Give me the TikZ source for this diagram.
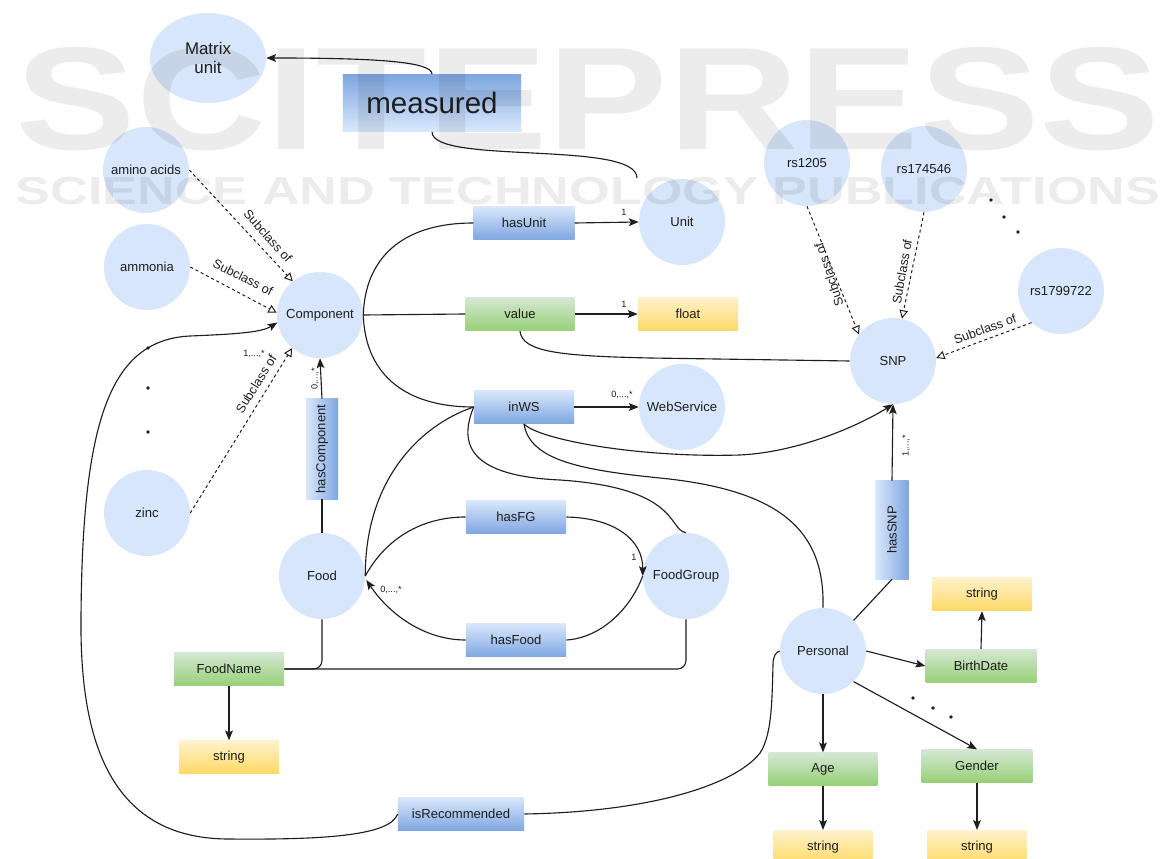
\documentclass[tikz,border=0pt]{standalone}
\usepackage{fontspec}
\usepackage{graphicx}
\setmainfont{Liberation Sans}
\usetikzlibrary{arrows.meta,shapes.geometric,calc}
\definecolor{clsfill}{HTML}{D8E6FB}
\definecolor{bl}{HTML}{DAE8FC}
\definecolor{bd}{HTML}{7EA6E0}
\definecolor{gl}{HTML}{D5E8D4}
\definecolor{gd}{HTML}{97D077}
\definecolor{yl}{HTML}{FFF2CC}
\definecolor{yd}{HTML}{FFD966}
\definecolor{ink}{HTML}{1E1E1E}
\begin{document}
\begin{tikzpicture}[x=0.025cm,y=-0.025cm,
  every node/.style={text=ink},
  cls/.style={circle, fill=clsfill, minimum size=2.15cm, inner sep=0pt, font=\fontsize{9.3}{11}\selectfont},
  pbox/.style={rectangle, minimum width=2.5cm, minimum height=0.84cm, inner sep=0pt, top color=bl, bottom color=bd, font=\fontsize{9.3}{11}\selectfont},
  vbox/.style={pbox, left color=bl, right color=bd},
  dbox/.style={pbox, top color=gl, bottom color=gd},
  tbox/.style={pbox, top color=yl, bottom color=yd},
  ln/.style={draw=ink, line width=0.8pt},
  arr/.style={-{Stealth[length=7pt,width=5.5pt,inset=1.5pt]}},
  sub/.style={draw=ink, line width=0.7pt, dash pattern=on 2.2pt off 2pt, -{Triangle[open,length=6pt,width=6pt]}},
  lbl/.style={inner sep=0pt, font=\fontsize{9}{10}\selectfont},
  card/.style={inner sep=0pt, font=\fontsize{6.5}{7}\selectfont},
  wm/.style={text=black, text opacity=0.075, inner sep=0pt}
]
\useasboundingbox (0,0) rectangle (1167,859);
\fill[white] (0,0) rectangle (1167,859);

% class nodes
\node[cls, ellipse, minimum width=2.9cm, minimum height=2.25cm, font=\fontsize{12}{14}\selectfont, align=center] (mx) at (208,58) {Matrix\\unit};
\node[cls] (amino) at (146,170) {amino acids};
\node[cls] (ammonia) at (147,267) {ammonia};
\node[cls] (comp) at (320,315) {Component};
\node[cls] (zinc) at (147,513) {zinc};
\node[cls] (food) at (322,576) {Food};
\node[cls] (fg) at (686,576) {FoodGroup};
\node[cls] (unit) at (682,222) {Unit};
\node[cls] (ws) at (682,407) {WebService};
\node[cls] (rsA) at (807,163) {rs1205};
\node[cls] (rsB) at (924,169) {rs174546};
\node[cls] (rsC) at (1061,291) {rs1799722};
\node[cls] (snp) at (893,361) {SNP};
\node[cls] (pers) at (823,651) {Personal};

% property boxes
\node[pbox, top color=bd, bottom color=bl, minimum width=4.45cm, minimum height=1.43cm, font=\fontsize{21}{24}\selectfont] (meas) at (432,103) {measured};
\node[pbox, minimum width=2.52cm] (hasUnit) at (524,223) {hasUnit};
\node[dbox, minimum width=2.72cm] (value) at (520,314) {value};
\node[tbox] (float) at (688,314) {float};
\node[pbox] (inWS) at (524,407) {inWS};
\node[vbox, minimum width=0.8cm, minimum height=2.5cm] (hasComp) at (322,449) {\rotatebox{90}{hasComponent}};
\node[pbox] (hasFG) at (516,517) {hasFG};
\node[pbox] (hasFood) at (516,640) {hasFood};
\node[dbox, minimum width=2.75cm] (foodName) at (229,669) {FoodName};
\node[tbox, minimum height=0.82cm] (strFN) at (229,757) {string};
\node[pbox, minimum width=3.15cm] (isRec) at (461,814) {isRecommended};
\node[vbox, minimum width=0.83cm, minimum height=2.45cm] (hasSNP) at (892,530) {\rotatebox{90}{hasSNP}};
\node[tbox] (strBD) at (982,594) {string};
\node[dbox, minimum width=2.77cm] (bdate) at (981,666) {BirthDate};
\node[dbox, minimum width=2.72cm, minimum height=0.82cm] (age) at (823,769) {Age};
\node[dbox, minimum width=2.77cm, minimum height=0.82cm] (gender) at (977,766) {Gender};
\node[tbox, minimum width=2.48cm] (strAge) at (823,847) {string};
\node[tbox, minimum width=2.48cm] (strG) at (977,847) {string};

% connectors
\draw[ln,arr] (meas.north) .. controls (432,62) and (380,58) .. (mx.east);
\draw[ln] (meas.south) .. controls (432,165) and (637,140) .. ([shift={(-45,-44)}]unit.center);
\draw[ln] (comp.east) .. controls (365,260) and (400,223) .. (hasUnit.west);
\draw[ln] (comp.east) -- (value.west);
\draw[ln] (comp.east) .. controls (365,370) and (400,407) .. (inWS.west);
\draw[ln,arr] (hasUnit.east) -- (unit.west);
\draw[ln,arr] (value.east) -- (float.west);
\draw[ln,arr] (inWS.east) -- (ws.west);
\draw[ln] (value.south) .. controls (522,352) and (560,356) .. (650,358) -- (snp.west);
\draw[ln] (inWS.west) .. controls (420,425) and (365,480) .. (food.east);
\draw[ln] (inWS.west) .. controls (458,445) and (470,476) .. (560,480) .. controls (680,488) and (668,530) .. (fg.north);
\draw[ln,arr] (inWS.south) .. controls (540,440) and (640,458) .. (740,455) .. controls (800,452) and (860,425) .. (snp.south);
\draw[ln] (inWS.south) .. controls (530,460) and (580,470) .. (660,478) .. controls (780,490) and (825,530) .. (pers.north);
\draw[ln,arr] (hasComp.north) -- (comp.south);
\draw[ln] (food.north) -- (hasComp.south);
\draw[ln] (food.east) .. controls (385,540) and (420,517) .. (hasFG.west);
\draw[ln,arr] (hasFG.east) .. controls (615,518) and (643,540) .. (fg.west);
\draw[ln] (fg.west) .. controls (630,610) and (600,638) .. (hasFood.east);
\draw[ln,arr] (hasFood.west) .. controls (425,640) and (390,615) .. ([shift={(1,4)}]food.east);
\draw[ln,rounded corners=6pt] (foodName.east) -| (food.south);
\draw[ln,rounded corners=6pt] (foodName.east) -| (fg.south);
\draw[ln,arr] (foodName.south) -- (strFN.north);
\draw[ln,arr] (isRec.west) .. controls (390,835) and (330,840) .. (227,839) .. controls (110,838) and (80,740) .. (81,620) .. controls (82,420) and (110,340) .. (190,336) .. controls (240,334) and (262,332) .. (comp.190);
\draw[ln] (isRec.east) .. controls (650,812) and (735,785) .. (760,753) .. controls (772,735) and (772,700) .. (773,665) .. controls (773,656) and (776,652) .. (pers.west);
\draw[ln,arr] (hasSNP.north) -- (snp.south);
\draw[ln] (pers.north east) -- (hasSNP.south);
\draw[ln,arr] (pers.east) -- (bdate.west);
\draw[ln,arr] (bdate.north) -- (strBD.south);
\draw[ln,arr] (pers.south east) -- (gender.north);
\draw[ln,arr] (pers.south) -- (age.north);
\draw[ln,arr] (age.south) -- (strAge.north);
\draw[ln,arr] (gender.south) -- (strG.north);

% subclass arrows
\draw[sub] (amino.east) -- (comp.129);
\draw[sub] (ammonia.east) -- (comp.177);
\draw[sub] (zinc.east) -- (comp.230);
\draw[sub] (rsA.south) -- (snp.142);
\draw[sub] (rsB.south) -- (snp.78);
\draw[sub] (rsC.227) -- (snp.4);

% labels
\node[lbl, rotate=-48] (l1) at (268,236) {Subclass of};
\node[lbl, rotate=-27] (l2) at (243,277) {Subclass of};
\node[lbl, rotate=58] (l3) at (256,384) {Subclass of};
\node[lbl, rotate=109] (l4) at (829,275) {Subclass of};
\node[lbl, rotate=80] (l5) at (902,272) {Subclass of};
\node[lbl, rotate=20] (l6) at (985,329) {Subclass of};

\node[card] (k1) at (624,212) {1};
\node[card] (k2) at (624,304) {1};
\node[card] (k3) at (622,395) {0,...,*};
\node[card, rotate=90] (k4) at (315,379) {0,...,*};
\node[card] (k5) at (634,557) {1};
\node[card] (k6) at (391,590) {0,...,*};
\node[card, rotate=90] (k7) at (906,446) {1,...,*};
\node[card] (k8) at (254,354) {1,...,*};

% ellipsis dots
\foreach \p in {(148,348),(148,388),(148,432),(991,200),(1004,217),(1018,232),(913,698),(933,708),(951,717)}
  \fill[ink] \p circle (1.3pt);

% watermark
\node[wm] (wm1) at (588,99) {\resizebox{28.6cm}{2.55cm}{\bfseries SCITEPRESS}};
\node[wm] (wm2) at (588,191) {\resizebox{28.6cm}{0.68cm}{\bfseries SCIENCE AND TECHNOLOGY PUBLICATIONS}};
\end{tikzpicture}
\end{document}
